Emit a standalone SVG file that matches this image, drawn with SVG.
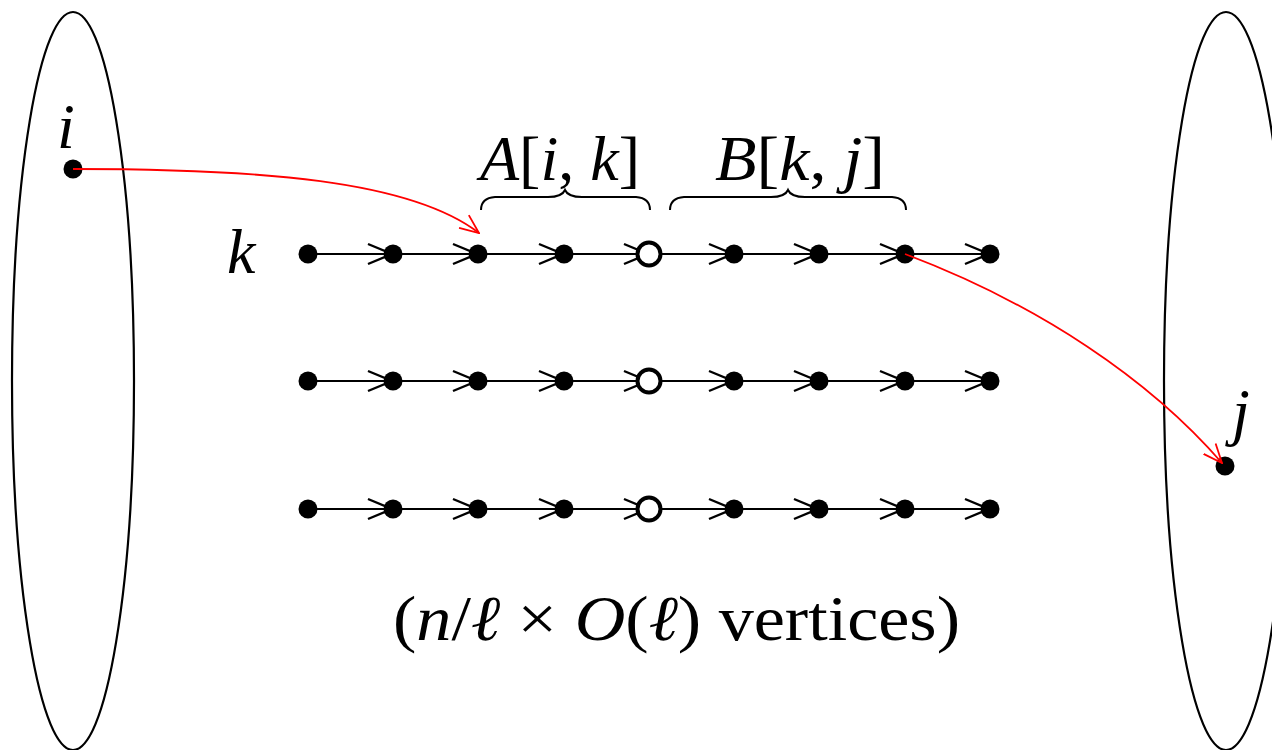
<svg xmlns="http://www.w3.org/2000/svg" width="1272" height="750" viewBox="0 0 1272 750">
<style>
.ell{fill:none;stroke:#000;stroke-width:2.2}
.edge{stroke:#000;stroke-width:2;fill:none}
.ah{stroke:#000;stroke-width:2.4;fill:none}
.dot{fill:#000}
.hol{fill:#fff;stroke:#000;stroke-width:4}
.red{stroke:#f00;stroke-width:1.8;fill:none}
.brace{stroke:#000;stroke-width:2;fill:none}
.m{font-family:"Liberation Serif","DejaVu Serif",serif;font-size:64px;fill:#000}
.mi{font-style:italic}
</style>
<defs>
<g id="ahd"><path class="ah" d="M-25,-10 L-1,0 L-25,10"/></g>
<g id="row">
<path class="edge" d="M308,0 H990"/>
<use href="#ahd" x="393"/><use href="#ahd" x="478"/><use href="#ahd" x="564"/><use href="#ahd" x="649"/>
<use href="#ahd" x="734"/><use href="#ahd" x="819"/><use href="#ahd" x="905"/><use href="#ahd" x="990"/>
<circle class="dot" cx="308" cy="0" r="9.5"/><circle class="dot" cx="393" cy="0" r="9.5"/><circle class="dot" cx="478" cy="0" r="9.5"/><circle class="dot" cx="564" cy="0" r="9.5"/>
<circle class="hol" cx="649" cy="0" r="11.5"/>
<circle class="dot" cx="734" cy="0" r="9.5"/><circle class="dot" cx="819" cy="0" r="9.5"/><circle class="dot" cx="905" cy="0" r="9.5"/><circle class="dot" cx="990" cy="0" r="9.5"/>
</g>
<marker id="redhead" viewBox="0 0 20 20" refX="19" refY="10" markerWidth="20" markerHeight="20" markerUnits="userSpaceOnUse" orient="auto">
<path d="M0,2 L19,10 L0,18" fill="none" stroke="#f00" stroke-width="1.8"/>
</marker>
</defs>
<g id="left-set"><ellipse class="ell" cx="73" cy="381" rx="61" ry="369"/></g>
<g id="right-set"><ellipse class="ell" cx="1226" cy="381" rx="62" ry="369"/></g>
<g id="node-i"><circle class="dot" cx="73" cy="169" r="9.5"/><text class="m mi" x="57" y="148">i</text></g>
<g id="node-j"><circle class="dot" cx="1225" cy="466" r="9.5"/><text class="m mi" x="1232" y="433">j</text></g>
<g id="label-k"><text class="m mi" x="227" y="273">k</text></g>
<g id="row1"><use href="#row" y="254"/></g>
<g id="row2"><use href="#row" y="381"/></g>
<g id="row3"><use href="#row" y="509"/></g>
<g id="brace-A">
<path class="brace" d="M481,210 Q481,198 495,197 L548,197 Q562,197 565,190 Q568,197 582,197 L636,197 Q650,198 650,210"/>
<text class="m" x="480" y="180" textLength="160" lengthAdjust="spacingAndGlyphs"><tspan class="mi">A</tspan>[<tspan class="mi">i</tspan>, <tspan class="mi">k</tspan>]</text>
</g>
<g id="brace-B">
<path class="brace" d="M670,210 Q670,198 684,197 L771,197 Q785,197 788,190 Q791,197 805,197 L892,197 Q906,198 906,210"/>
<text class="m" x="715" y="180" textLength="170" lengthAdjust="spacingAndGlyphs"><tspan class="mi">B</tspan>[<tspan class="mi">k</tspan>, <tspan class="mi">j</tspan>]</text>
</g>
<g id="connectors">
<path class="red" d="M73,169 C260,169 410,180 479,233" marker-end="url(#redhead)"/>
<path class="red" d="M905,254 C1040,305 1150,380 1222,463" marker-end="url(#redhead)"/>
</g>
<g id="caption"><text class="m" x="393" y="640" textLength="567" lengthAdjust="spacingAndGlyphs">(<tspan class="mi">n</tspan>/<tspan class="mi">ℓ</tspan> × <tspan class="mi">O</tspan>(<tspan class="mi">ℓ</tspan>) vertices)</text></g>
</svg>
